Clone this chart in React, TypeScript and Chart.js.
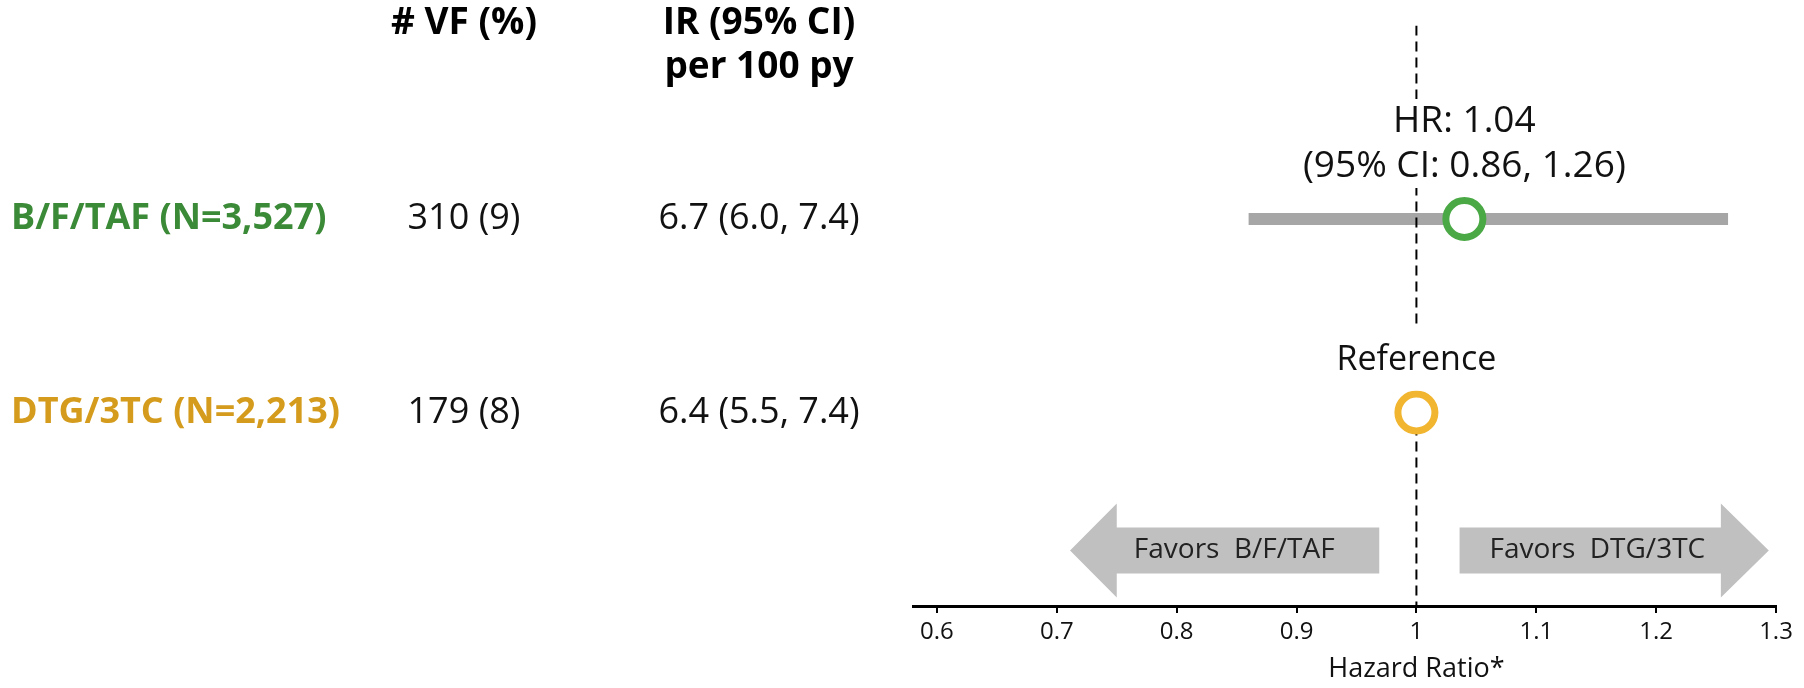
import React, { useEffect, useRef } from 'react';
import { Chart, registerables } from 'chart.js';

Chart.register(...registerables);

// ---- data ----
const ARM_LABELS = ['B/F/TAF (N=3,527)', 'DTG/3TC (N=2,213)'];
const VF_TEXT = ['310 (9)', '179 (8)'];
const IR_TEXT = ['6.7 (6.0, 7.4)', '6.4 (5.5, 7.4)'];
const ROW_POS = [1, 2];
const HR_VALUES = [1.04, 1];
const HR_CI_LOW = 0.86;
const HR_CI_HIGH = 1.26;
const REFERENCE_HR = 1;
const X_TICKS = [0.6, 0.7, 0.8, 0.9, 1, 1.1, 1.2, 1.3];
const VF_HEADER = ['# VF (%)'];
const IR_HEADER = ['IR (95% CI)', 'per 100 py'];
const FAVORS_TEXT = ['Favors  B/F/TAF', 'Favors  DTG/3TC'];
const AXIS_TITLE = 'Hazard Ratio*';

// ---- styling / layout ----
const FONT = '"Open Sans", "Noto Sans", sans-serif';
const ARM_TEXT_COLORS = ['#3b8a37', '#d49b1c'];
const MARKER_COLORS = ['#4aa945', '#f1b52f'];
const CI_COLOR = '#a6a6a6';
const ARROW_COLOR = '#c0c0c0';
const TEXT_COLOR = '#111111';
const COL_LABEL_X = 11;
const COL_VF_X = 464;
const COL_IR_X = 759;
const HEADER_Y = [23, 67];
const TITLE_Y = 669;
const ARROW_ROW = 2.713;
const ARROWS = [
  { tail: 0.969, neck: 0.75, tip: 0.711, textX: 0.848 },
  { tail: 1.036, neck: 1.254, tip: 1.294, textX: 1.151 },
];
const ARROW_BODY_HALF = 23;
const ARROW_HEAD_HALF = 47;

function labelBox(
  ctx: CanvasRenderingContext2D,
  lines: string[],
  cx: number,
  lastY: number,
  lineGap: number,
  padTop: number,
  padBottom: number,
) {
  const w = Math.max(...lines.map((l) => ctx.measureText(l).width));
  const top = lastY - lineGap * (lines.length - 1) - padTop;
  const bottom = lastY + padBottom;
  ctx.fillStyle = '#ffffff';
  ctx.fillRect(cx - w / 2 - 6, top, w + 12, bottom - top);
  ctx.fillStyle = TEXT_COLOR;
  lines.forEach((l, i) => {
    ctx.fillText(l, cx, lastY - lineGap * (lines.length - 1 - i));
  });
}

const forestDecor = {
  id: 'forestDecor',
  beforeDatasetsDraw(chart: any) {
    const { ctx } = chart;
    const xs = chart.scales.x;
    const ys = chart.scales.y;
    const cy = ys.getPixelForValue(ARROW_ROW);
    ctx.save();
    ARROWS.forEach((a, i) => {
      const tail = xs.getPixelForValue(a.tail);
      const neck = xs.getPixelForValue(a.neck);
      const tip = xs.getPixelForValue(a.tip);
      ctx.beginPath();
      ctx.moveTo(tail, cy - ARROW_BODY_HALF);
      ctx.lineTo(neck, cy - ARROW_BODY_HALF);
      ctx.lineTo(neck, cy - ARROW_HEAD_HALF);
      ctx.lineTo(tip, cy);
      ctx.lineTo(neck, cy + ARROW_HEAD_HALF);
      ctx.lineTo(neck, cy + ARROW_BODY_HALF);
      ctx.lineTo(tail, cy + ARROW_BODY_HALF);
      ctx.closePath();
      ctx.fillStyle = ARROW_COLOR;
      ctx.fill();
      ctx.fillStyle = '#222222';
      ctx.font = `28px ${FONT}`;
      ctx.textAlign = 'center';
      ctx.textBaseline = 'middle';
      ctx.fillText(FAVORS_TEXT[i], xs.getPixelForValue(a.textX), cy);
    });
    ctx.restore();
  },
  afterDatasetsDraw(chart: any) {
    const { ctx } = chart;
    const xs = chart.scales.x;
    const ys = chart.scales.y;
    ctx.save();
    ctx.textAlign = 'center';
    ctx.textBaseline = 'middle';
    // estimate label above the treatment marker
    ctx.font = `37px ${FONT}`;
    const hrLines = [
      `HR: ${HR_VALUES[0].toFixed(2)}`,
      `(95% CI: ${HR_CI_LOW.toFixed(2)}, ${HR_CI_HIGH.toFixed(2)})`,
    ];
    labelBox(ctx, hrLines, xs.getPixelForValue(HR_VALUES[0]), ys.getPixelForValue(ROW_POS[0]) - 53, 45, 22, 22);
    // reference arm label
    ctx.font = `34px ${FONT}`;
    labelBox(ctx, ['Reference'], xs.getPixelForValue(HR_VALUES[1]), ys.getPixelForValue(ROW_POS[1]) - 52, 45, 32, 30);
    // axis title centred on the null value
    ctx.font = `27px ${FONT}`;
    ctx.fillStyle = TEXT_COLOR;
    ctx.fillText(AXIS_TITLE, xs.getPixelForValue(REFERENCE_HR), TITLE_Y);
    ctx.restore();
  },
  afterDraw(chart: any) {
    const { ctx } = chart;
    const ys = chart.scales.y;
    ctx.save();
    ctx.textBaseline = 'middle';
    ctx.textAlign = 'center';
    ctx.fillStyle = '#000000';
    ctx.font = `bold 37px ${FONT}`;
    VF_HEADER.forEach((t, i) => ctx.fillText(t, COL_VF_X, HEADER_Y[i]));
    IR_HEADER.forEach((t, i) => ctx.fillText(t, COL_IR_X, HEADER_Y[i]));
    ROW_POS.forEach((r, i) => {
      const y = ys.getPixelForValue(r);
      ctx.textAlign = 'left';
      ctx.font = `bold 36px ${FONT}`;
      ctx.fillStyle = ARM_TEXT_COLORS[i];
      ctx.fillText(ARM_LABELS[i], COL_LABEL_X, y);
      ctx.textAlign = 'center';
      ctx.font = `36px ${FONT}`;
      ctx.fillStyle = TEXT_COLOR;
      ctx.fillText(VF_TEXT[i], COL_VF_X, y);
      ctx.fillText(IR_TEXT[i], COL_IR_X, y);
    });
    ctx.restore();
  },
};

export default function App() {
  const canvasRef = useRef<HTMLCanvasElement | null>(null);

  useEffect(() => {
    const canvas = canvasRef.current;
    if (!canvas) return;
    const chart = new Chart(canvas, {
      type: 'scatter',
      data: {
        datasets: [
          {
            type: 'line',
            data: [
              { x: HR_CI_LOW, y: ROW_POS[0] },
              { x: HR_CI_HIGH, y: ROW_POS[0] },
            ],
            borderColor: CI_COLOR,
            borderWidth: 12,
            borderCapStyle: 'butt',
            pointRadius: 0,
            showLine: true,
            order: 3,
          },
          {
            type: 'line',
            data: [
              { x: REFERENCE_HR, y: 0 },
              { x: REFERENCE_HR, y: 3 },
            ],
            borderColor: '#000000',
            borderWidth: 2,
            borderDash: [10, 6],
            pointRadius: 0,
            showLine: true,
            order: 2,
          },
          {
            type: 'scatter',
            data: ROW_POS.map((r, i) => ({ x: HR_VALUES[i], y: r })),
            pointRadius: 18.5,
            pointBorderWidth: 7,
            pointBackgroundColor: '#ffffff',
            pointBorderColor: MARKER_COLORS,
            order: 1,
          },
        ] as any,
      },
      options: {
        responsive: false,
        animation: false,
        events: [],
        layout: { padding: { left: 913, right: 28, top: 21, bottom: 0 } },
        plugins: { legend: { display: false }, tooltip: { enabled: false } },
        scales: {
          x: {
            type: 'linear',
            min: 0.58,
            max: 1.3,
            afterBuildTicks: (s: any) => {
              s.ticks = X_TICKS.map((v) => ({ value: v }));
            },
            afterFit: (s: any) => {
              s.height = 82;
            },
            grid: { drawOnChartArea: false, drawTicks: true, tickLength: 7, color: '#000000', lineWidth: 2 },
            border: { display: true, color: '#000000', width: 3 },
            ticks: {
              padding: 5,
              color: TEXT_COLOR,
              autoSkip: false,
              maxRotation: 0,
              font: { family: FONT, size: 24 },
              callback: (v: any) => String(v),
            },
            title: { display: false },
          },
          y: { type: 'linear', min: 0, max: 3, reverse: true, display: false },
        },
      } as any,
      plugins: [forestDecor],
    });
    return () => chart.destroy();
  }, []);

  return (
    <div style={{ position: 'absolute', left: 0, top: 0, width: 1804, height: 688, background: '#ffffff' }}>
      <canvas ref={canvasRef} width={1804} height={688} style={{ display: 'block' }} />
    </div>
  );
}
